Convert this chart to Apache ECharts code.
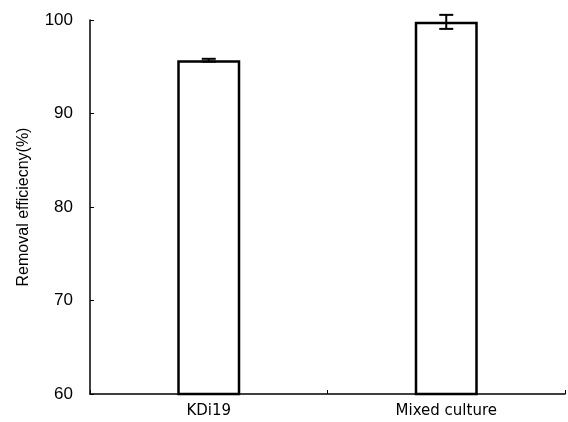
<!DOCTYPE html>
<html><head><meta charset="utf-8">
<script src="https://cdn.jsdelivr.net/npm/echarts@6/dist/echarts.min.js"></script>
<style>html,body{margin:0;padding:0;background:#fff}#c{width:568px;height:422px}</style>
</head><body><div id="c"></div>
<script>
var categories = ['KDi19', 'Mixed culture'];
var efficiency = [95.7, 99.8];
var errors = [0.15, 0.75];
var yTicks = [60, 70, 80, 90, 100];

var chart = echarts.init(document.getElementById('c'));
chart.setOption({
  animation: false,
  backgroundColor: '#fff',
  grid: {left: 90, right: 3, top: 20, bottom: 28},
  xAxis: {
    type: 'category', data: categories, boundaryGap: true,
    axisLine: {lineStyle: {color: '#000', width: 1.5}},
    axisTick: {show: true, inside: true, length: 4, lineStyle: {color: '#000'}},
    axisLabel: {color: '#000', fontFamily: 'DejaVu Sans', fontSize: 15, margin: 10}
  },
  yAxis: {
    type: 'value', min: 60, max: 100, interval: 10,
    name: 'Removal efficiecny(%)', nameLocation: 'middle', nameGap: 58, nameRotate: 90,
    nameTextStyle: {color: '#000', fontFamily: 'Liberation Sans', fontSize: 16},
    axisLine: {show: true, lineStyle: {color: '#000', width: 1.5}},
    axisTick: {show: true, inside: true, length: 4, lineStyle: {color: '#000'}},
    axisLabel: {color: '#000', fontFamily: 'Liberation Sans', fontSize: 17, margin: 17,
      formatter: function(v){ return yTicks.indexOf(v) >= 0 ? String(v) : ''; }},
    splitLine: {show: false}
  },
  series: [{
    type: 'bar', data: efficiency, barWidth: 63,
    itemStyle: {color: '#fff', borderColor: '#000', borderWidth: 2.5}
  }, {
    type: 'custom',
    data: efficiency.map(function(v, i){ return [i, v - errors[i], v + errors[i]]; }),
    renderItem: function(params, api){
      var lo = api.coord([api.value(0), api.value(1)]);
      var hi = api.coord([api.value(0), api.value(2)]);
      var w = 7;
      var st = {stroke: '#000', lineWidth: 2};
      return {type: 'group', children: [
        {type: 'line', shape: {x1: hi[0], y1: hi[1], x2: lo[0], y2: lo[1]}, style: st},
        {type: 'line', shape: {x1: hi[0]-w, y1: hi[1], x2: hi[0]+w, y2: hi[1]}, style: st},
        {type: 'line', shape: {x1: lo[0]-w, y1: lo[1], x2: lo[0]+w, y2: lo[1]}, style: st}
      ]};
    },
    z: 5
  }]
});
</script></body></html>
